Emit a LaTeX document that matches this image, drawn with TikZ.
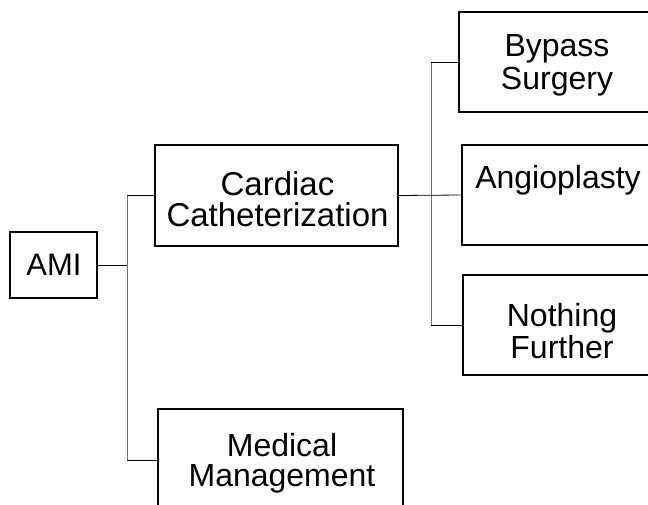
\documentclass[tikz,border=0pt]{standalone}
\usepackage{fontspec}
\setmainfont{Liberation Sans}
\begin{document}
\begin{tikzpicture}[x=1pt,y=-1pt,
  box/.style={draw=black,line width=1.1pt,rectangle,inner sep=0pt},
  lbl/.style={align=center,inner sep=0pt,anchor=base},
  conn/.style={draw=black,line width=0.8pt},
  trunk/.style={draw=black!55,line width=0.7pt}]
\useasboundingbox (0,0) rectangle (648,505);
\clip (0,0) rectangle (648,505);
% boxes
\node[box,minimum width=87pt,minimum height=66pt] (ami) at (53.5,265) {};
\node[box,minimum width=243pt,minimum height=101pt] (cath) at (276.5,195.5) {};
\node[box,minimum width=241pt,minimum height=100pt] (bypass) at (579.5,62) {};
\node[box,minimum width=238pt,minimum height=100pt] (angio) at (581,195) {};
\node[box,minimum width=237pt,minimum height=100pt] (nothing) at (581.5,325) {};
\node[box,minimum width=245pt,minimum height=151pt] (medical) at (280.5,484.5) {};
% labels (anchor = baseline of the last line)
\node[lbl,font=\fontsize{31}{31}\selectfont] (amitext) at (54,275) {AMI};
\node[lbl,font=\fontsize{33}{31}\selectfont] (cathtext) at (277.5,226) {Cardiac\\Catheterization};
\node[lbl,font=\fontsize{32}{33}\selectfont] (bypasstext) at (557,90) {Bypass\\Surgery};
\node[lbl,font=\fontsize{32}{32}\selectfont] (angiotext) at (558,189) {Angioplasty};
\node[lbl,font=\fontsize{32}{32}\selectfont] (nothingtext) at (562,358) {Nothing\\Further};
\node[lbl,font=\fontsize{32}{30}\selectfont] (medicaltext) at (282,486) {Medical\\Management};
% connectors
\coordinate (lt) at (127,195.5);
\coordinate (lb) at (127,460);
\coordinate (rt) at (431,62);
\coordinate (rb) at (431,325);
\draw[trunk] (lt) -- (lb);
\draw[conn] (ami.east) -- (ami.east -| lt);
\draw[conn] (lt) -- (cath.west);
\draw[conn] (lb) -- (lb -| medical.west);
\draw[trunk] (rt) -- (rb);
\draw[conn] (cath.east) -- (angio.west);
\draw[conn] (rt) -- (bypass.west);
\draw[conn] (rb) -- (nothing.west);
\end{tikzpicture}
\end{document}
